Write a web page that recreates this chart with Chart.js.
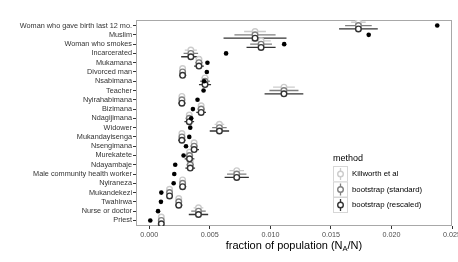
<!DOCTYPE html>
<html>
<head>
<meta charset="utf-8">
<script src="https://cdn.jsdelivr.net/npm/chart.js@4.4.1/dist/chart.umd.min.js"></script>
<style>
  html, body { margin: 0; padding: 0; background: #fff; overflow: hidden; }
  #wrap { width: 470px; height: 262px; }
</style>
</head>
<body>
<div id="wrap"><canvas id="chart" width="470" height="262"></canvas></div>
<script>
const categories = [
  'Woman who gave birth last 12 mo.', 'Muslim', 'Woman who smokes', 'Incarcerated',
  'Mukamana', 'Divorced man', 'Nsabimana', 'Teacher', 'Nyirahabimana', 'Bizimana',
  'Ndagijimana', 'Widower', 'Mukandayisenga', 'Nsengimana', 'Murekatete', 'Ndayambaje',
  'Male community health worker', 'Nyiraneza', 'Mukandekezi', 'Twahirwa',
  'Nurse or doctor', 'Priest'
];

// black dots
const truth = [
  0.02378, 0.01812, 0.01114, 0.00634, 0.0048, 0.00475, 0.00453, 0.00448, 0.00398, 0.0036,
  0.00346, 0.00338, 0.0033, 0.00303, 0.00283, 0.00214, 0.00206, 0.00201, 0.00099, 0.00096,
  0.00072, 0.00008
];

// point estimate (shared by the three methods)
const estimate = [
  0.01727, 0.00873, 0.00923, 0.00343, 0.0041, 0.00275, 0.0046, 0.01112, 0.00269, 0.00428,
  0.0033, 0.00579, 0.00269, 0.0037, 0.00332, 0.00338, 0.00722, 0.00275, 0.00167, 0.00243,
  0.00406, 0.00099
];

// half widths of the intervals
const hwKillworth = [
  0.0006, 0.0009, 0.0008, 0.0005, 0.0002, 0.0002, 0.0003, 0.0009, 0.0002, 0.0002,
  0.0002, 0.0004, 0.0002, 0.0002, 0.0002, 0.0002, 0.0006, 0.0002, 0.0001, 0.0002,
  0.0004, 0.0001
];
const hwStandard = [
  0.0011, 0.0017, 0.0009, 0.0006, 0.0003, 0.0002, 0.0004, 0.0012, 0.0002, 0.0003,
  0.0003, 0.0006, 0.0002, 0.0003, 0.0003, 0.0003, 0.0008, 0.0002, 0.0002, 0.0002,
  0.0006, 0.0002
];
const hwRescaled = [
  0.0016, 0.0026, 0.0012, 0.0008, 0.0004, 0.0003, 0.0005, 0.0016, 0.0003, 0.0004,
  0.0004, 0.0008, 0.0003, 0.0004, 0.0004, 0.0004, 0.0010, 0.0003, 0.0002, 0.0003,
  0.0008, 0.0002
];

const xTicks = [0, 0.005, 0.010, 0.015, 0.020, 0.025];
const methodLabels = ['Killworth et al', 'bootstrap (standard)', 'bootstrap (rescaled)'];
const methodColors = ['#cccccc', '#7f7f7f', '#333333'];
const methodHw = [hwKillworth, hwStandard, hwRescaled];
const dodge = [-0.36, 0, 0.36];

const FONT = '"Liberation Sans", Arial, Helvetica, sans-serif';

function barPoints(hw, off) {
  const pts = [];
  estimate.forEach((e, i) => {
    pts.push({ x: e - hw[i], y: i + off }, { x: e + hw[i], y: i + off }, { x: NaN, y: NaN });
  });
  return pts;
}

const datasets = [];
datasets.push({
  label: 'truth',
  data: truth.map((v, i) => ({ x: v, y: i })),
  pointRadius: 2.3, pointBackgroundColor: '#000', pointBorderColor: '#000', pointBorderWidth: 0,
  order: 0
});
methodLabels.forEach((m, k) => {
  datasets.push({
    label: m + ' bar',
    data: barPoints(methodHw[k], dodge[k]),
    showLine: true, spanGaps: false, pointRadius: 0,
    borderColor: methodColors[k], borderWidth: 1.3,
    order: 20 - k
  });
  datasets.push({
    label: m,
    data: estimate.map((e, i) => ({ x: e, y: i + dodge[k] })),
    pointRadius: 2.8, pointBorderWidth: 1.4,
    pointBackgroundColor: '#fff', pointBorderColor: methodColors[k],
    order: 10 - k
  });
});

const decor = {
  id: 'decor',
  beforeDatasetsDraw(chart) {
    const { ctx, chartArea: a } = chart;
    ctx.save();
    ctx.strokeStyle = '#a8a8a8';
    ctx.lineWidth = 1;
    ctx.strokeRect(a.left + 0.5, a.top + 0.5, a.right - a.left - 1, a.bottom - a.top - 1);
    ctx.restore();
  },
  afterDraw(chart) {
    const { ctx, chartArea: a } = chart;
    ctx.save();
    // x axis title with subscript
    const main = '11px ' + FONT, sub = '7.5px ' + FONT;
    const p1 = 'fraction of population (N', p2 = 'A', p3 = '/N)';
    ctx.font = main; const w1 = ctx.measureText(p1).width, w3 = ctx.measureText(p3).width;
    ctx.font = sub; const w2 = ctx.measureText(p2).width;
    let x = (a.left + a.right) / 2 - (w1 + w2 + w3) / 2;
    const y = 246;
    ctx.fillStyle = '#000';
    ctx.textBaseline = 'middle';
    ctx.textAlign = 'left';
    ctx.font = main; ctx.fillText(p1, x, y); x += w1;
    ctx.font = sub; ctx.fillText(p2, x, y + 3); x += w2;
    ctx.font = main; ctx.fillText(p3, x, y);

    // legend
    const lx = a.right - 119;
    ctx.font = '9px ' + FONT;
    ctx.fillStyle = '#000';
    ctx.fillText('method', lx, 159);
    methodLabels.forEach((m, k) => {
      const y0 = 166 + k * 15.5;
      ctx.fillStyle = '#fff';
      ctx.fillRect(lx, y0, 15, 15.5);
      ctx.strokeStyle = '#d6d6d6'; ctx.lineWidth = 1;
      ctx.strokeRect(lx + 0.5, y0 + 0.5, 14, 15);
      const cx = lx + 7.5, cy = y0 + 8;
      ctx.strokeStyle = methodColors[k]; ctx.lineWidth = 1.3;
      ctx.beginPath(); ctx.moveTo(cx, y0 + 2); ctx.lineTo(cx, y0 + 14); ctx.stroke();
      ctx.beginPath(); ctx.arc(cx, cy, 2.8, 0, Math.PI * 2);
      ctx.fillStyle = '#fff'; ctx.fill(); ctx.lineWidth = 1.4; ctx.stroke();
      ctx.fillStyle = '#000';
      ctx.font = '7.8px ' + FONT;
      ctx.fillText(m, lx + 19, cy);
    });
    ctx.restore();
  }
};

new Chart(document.getElementById('chart'), {
  type: 'scatter',
  data: { datasets },
  options: {
    responsive: false,
    animation: false,
    layout: { padding: { left: 0, right: 18, top: 20, bottom: 0 } },
    plugins: { legend: { display: false }, tooltip: { enabled: false } },
    scales: {
      x: {
        type: 'linear', min: -0.0011, max: 0.025,
        afterBuildTicks: s => { s.ticks = xTicks.map(v => ({ value: v })); },
        afterFit: s => { s.height = 36; s.paddingLeft = 0; s.paddingRight = 0; },
        grid: { drawOnChartArea: false, drawTicks: true, tickLength: 3, color: '#333', tickColor: '#333' },
        border: { display: false },
        ticks: {
          font: { family: FONT, size: 7.2 }, color: '#4d4d4d', padding: 1.5,
          maxRotation: 0, autoSkip: false,
          callback: v => v.toFixed(3)
        }
      },
      y: {
        type: 'linear', min: -0.6, max: 21.6, reverse: true,
        afterBuildTicks: s => { s.ticks = categories.map((c, i) => ({ value: i })); },
        afterFit: s => { s.width = 136; s.paddingTop = 0; s.paddingBottom = 0; },
        grid: { drawOnChartArea: false, drawTicks: true, tickLength: 3, color: '#333', tickColor: '#333' },
        border: { display: false },
        ticks: {
          font: { family: FONT, size: 7.3 }, color: '#333', padding: 1,
          autoSkip: false,
          callback: v => categories[v]
        }
      }
    }
  },
  plugins: [decor]
});
</script>
</body>
</html>
